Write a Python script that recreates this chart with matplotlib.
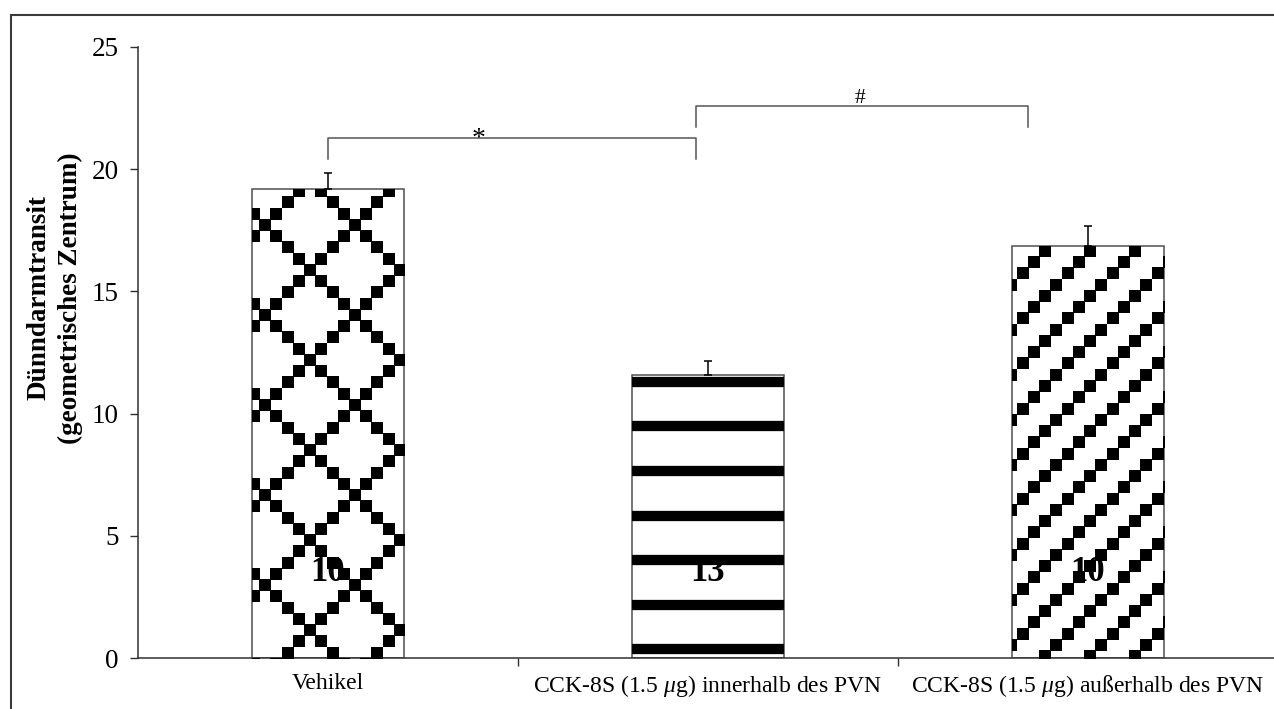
import matplotlib
matplotlib.use('Agg')
import matplotlib.pyplot as plt
import numpy as np
from matplotlib.patches import Rectangle

plt.rcParams['font.family'] = ['Liberation Serif', 'DejaVu Serif']
plt.rcParams['mathtext.fontset'] = 'custom'
plt.rcParams['mathtext.rm'] = 'Liberation Serif'
plt.rcParams['mathtext.it'] = 'Liberation Serif:italic'

groups = ['Vehikel',
          r'CCK-8S (1.5 $\mu$g) innerhalb des PVN',
          r'CCK-8S (1.5 $\mu$g) außerhalb des PVN']
means = [19.19, 11.58, 16.84]
sems = [0.65, 0.57, 0.82]
n_animals = [10, 13, 10]
# (x from, x to, bracket height, drop, label, label x, label baseline)
brackets = [(0.0, 0.968, 21.29, 0.88, '*', 0.395, 20.95),
            (0.968, 1.842, 22.60, 0.88, '#', 1.40, 22.72)]

W, H = 1274, 709
fig = plt.figure(figsize=(W / 100, H / 100), dpi=100)
ax = fig.add_axes([138 / W, 51 / H, 1140 / W, 611 / H])
ax.set_xlim(-0.5, 2.5)
ax.set_ylim(0, 25)

x = np.arange(len(means))
bars = ax.bar(x, means, width=0.4, color='white', edgecolor='#505050',
              linewidth=1.1, zorder=2)
ax.errorbar(x, means, yerr=[np.zeros(len(sems)), sems], fmt='none',
            ecolor='black', elinewidth=1.1, capsize=3, capthick=1.1, zorder=4)


def bar_px(bar):
    # bar corners in pixels, y counted from the top of the image
    (l, b), (r, t) = ax.transData.transform(
        [(bar.get_x(), bar.get_y()),
         (bar.get_x() + bar.get_width(), bar.get_y() + bar.get_height())])
    return l, r, H - t, H - b


def square_pattern(bar, x0, y0, step, keep, side=11.2):
    l, r, top, bot = bar_px(bar)
    a = np.arange(np.floor((l - x0) / step) - 1, np.ceil((r - x0) / step) + 2)
    b = np.arange(np.floor((top - y0) / step) - 1, np.ceil((bot - y0) / step) + 2)
    A, B = np.meshgrid(a.astype(int), b.astype(int))
    m = keep(A, B)
    xs = x0 + step * A[m]
    ys = y0 + step * B[m]
    pts = ax.transData.inverted().transform(np.column_stack([xs, H - ys]))
    sc = ax.scatter(pts[:, 0], pts[:, 1], marker='s', s=(side * 0.72) ** 2,
                    color='black', linewidths=0, zorder=3)
    sc.set_clip_path(bar)


# Vehikel: diamond lattice of squares
square_pattern(bars[0], 265, 225, 11.25,
               lambda A, B: ((A - B) % 8 == 0) | ((A + B) % 8 == 0))
# outside PVN: diagonal rows of squares
square_pattern(bars[2], 1045, 251, 11.25, lambda A, B: (A + B) % 4 == 0)

# inside PVN: thick horizontal stripes
l, r, top, bot = bar_px(bars[1])
ys = 649 - 44.5 * np.arange(-2, 14)
ys = ys[(ys > top - 10) & (ys < bot + 10)]
yd = ax.transData.inverted().transform(np.column_stack([np.full(len(ys), l), H - ys]))[:, 1]
st = ax.hlines(yd, bars[1].get_x(), bars[1].get_x() + bars[1].get_width(),
               colors='black', linewidth=7.4, zorder=3)
st.set_clip_path(bars[1])

for i, n in enumerate(n_animals):
    ax.text(i, 3.5, str(n), ha='center', va='center', fontsize=25,
            fontweight='bold', zorder=5)

for x1, x2, y, d, lab, lx, ly in brackets:
    ax.plot([x1, x1, x2, x2], [y - d, y, y, y - d], color='#555555',
            lw=1.1, clip_on=False, zorder=4)
    ax.text(lx, ly, lab, ha='center', va='baseline',
            fontsize=20 if lab == '*' else 15.5)

for s in ['top', 'right']:
    ax.spines[s].set_visible(False)
for s in ['left', 'bottom']:
    ax.spines[s].set_color('#303030')
    ax.spines[s].set_linewidth(1.1)

ax.set_yticks(range(0, 26, 5))
ax.tick_params(axis='y', length=5.8, width=1, pad=8, labelsize=19.5,
               color='#303030')
ax.set_xticks(x, groups, fontsize=17)
ax.set_xticks([0.5, 1.5], minor=True)
ax.tick_params(axis='x', which='major', length=0, pad=11)
ax.tick_params(axis='x', which='minor', length=6, width=1, color='#303030')

fig.text(55 / W, 1 - 298 / H, 'Dünndarmtransit\n(geometrisches Zentrum)',
         rotation=90, ha='center', va='center', fontsize=19.5,
         fontweight='bold', linespacing=1.35)

# frame around the whole figure
fig.patches.append(Rectangle((11 / W, -0.05), 1.1, 1 - 15 / H + 0.05,
                             transform=fig.transFigure, fill=False,
                             edgecolor='#3a3a3a', lw=1.5))

fig.savefig('out.png', dpi=100)
